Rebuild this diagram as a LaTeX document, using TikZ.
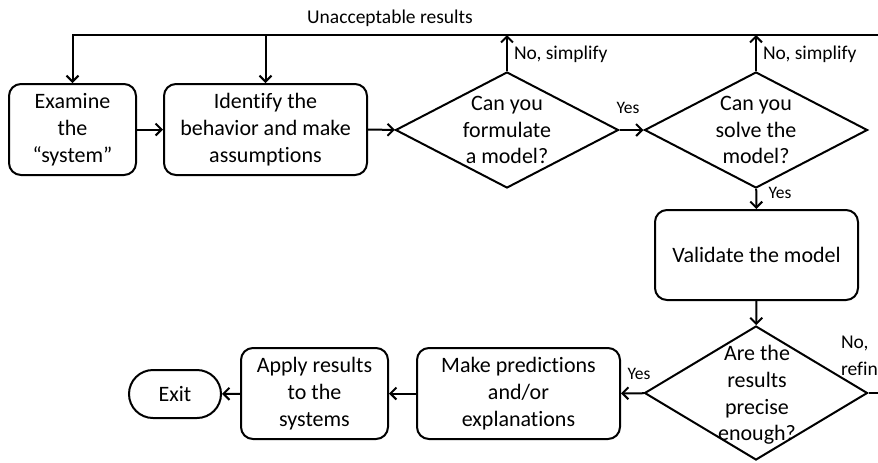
\documentclass[tikz,border=0pt]{standalone}
\usepackage{fontspec}
\setmainfont{Carlito}[Ligatures=NoCommon]
\usetikzlibrary{shapes.geometric,arrows.meta}

\begin{document}
\begin{tikzpicture}[x=0.5pt, y=-0.5pt, line width=1pt,
    box/.style={draw, rounded corners=6pt, align=center, inner sep=0pt, font=\fontsize{11}{13.4}\selectfont},
    decision/.style={draw, diamond, inner sep=0pt, minimum width=111.5pt},
    txt/.style={align=center, inner sep=0pt, font=\fontsize{11}{13.4}\selectfont},
    lbl/.style={inner sep=0pt, font=\fontsize{9.75}{13.5}\selectfont},
    flow/.style={-{Straight Barb[length=3pt,width=6pt]}}]
  \useasboundingbox (0,0) rectangle (878,462);
  \clip (0,0) rectangle (878,462); % the loop back runs off the right edge.

  \node[box, minimum width=63.5pt, minimum height=45.5pt] (examine) at (72.5,129.5) {Examine\\the\\``system''};
  \node[box, minimum width=101.5pt, minimum height=45.5pt] (identify) at (265.5,129.5) {Identify the\\behavior and make\\assumptions};
  \node[decision, minimum height=58pt] (formulate) at (507,130) {};
  \node[txt] (formulatetext) at (formulate) {Can you\\formulate\\a model?};
  \node[decision, minimum height=58pt] (solve) at (756,130) {};
  \node[txt] (solvetext) at (solve) {Can you\\solve the\\model?};
  \node[box, minimum width=101.5pt, minimum height=45pt] (validate) at (756.5,255) {Validate the model};
  \node[decision, minimum height=67pt] (precise) at (756,393) {};
  \node[txt] (precisetext) at (757,395) {Are the\\results\\precise\\enough?};
  \node[box, minimum width=101.5pt, minimum height=45.5pt] (predict) at (518.5,393.5) {Make predictions\\and/or\\explanations};
  \node[box, minimum width=73.5pt, minimum height=45.5pt] (apply) at (314.5,393.5) {Apply results\\to the\\systems};
  \node[box, rounded corners=12pt, minimum width=46pt, minimum height=24pt] (exit) at (175,394) {Exit};

  \coordinate (loop) at (910,35);
  \draw[flow] (examine) -- (identify);
  \draw[flow] (identify) -- (formulate);
  \draw[flow] (formulate) -- (solve);
  \draw[flow] (solve) -- (validate);
  \draw[flow] (validate) -- (precise);
  \draw[flow] (precise) -- (predict);
  \draw[flow] (predict) -- (apply);
  \draw[flow] (apply) -- (exit);
  \draw[flow] (precise.east) -| (loop) -| (examine.north);
  \draw[flow] (identify.north |- loop) -- (identify.north);
  \foreach \d in {formulate, solve} {
    \draw[flow] (\d.north) -- (\d.north |- loop);
    \node[lbl, anchor=west] (\d no) at ([xshift=3pt, yshift=8.5pt]\d.north) {No, simplify};
  }

  \node[lbl] (unacceptable) at (390,18) {Unacceptable results};
  \node[lbl, font=\fontsize{8.75}{10}\selectfont] (yes1) at (628,108) {Yes};
  \node[lbl, font=\fontsize{8.75}{10}\selectfont] (yes2) at (780,193) {Yes};
  \node[lbl, font=\fontsize{8.75}{10}\selectfont] (yes3) at (639,374) {Yes};
  \node[lbl, align=left, anchor=north west] (refine) at (840,335) {No,\\refine};
\end{tikzpicture}
\end{document}
